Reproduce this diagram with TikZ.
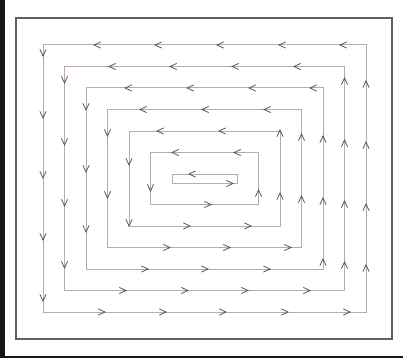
\documentclass[tikz,border=0pt]{standalone}
\definecolor{linecol}{RGB}{192,168,168}
\definecolor{arrcol}{RGB}{88,88,88}
\definecolor{framecol}{RGB}{95,95,95}
\definecolor{darkbg}{RGB}{22,22,22}
\begin{document}
\begin{tikzpicture}[x=1pt,y=-1pt,
  sp/.style={draw=linecol,line width=1pt},
  ch/.style={draw=arrcol,line width=0.8pt,line cap=round,line join=miter},
  pics/chl/.style={code={\draw[ch] (3.5,-3) -- (-3,0) -- (3.5,3);}},
  pics/chr/.style={code={\draw[ch] (-3.5,-3) -- (3,0) -- (-3.5,3);}},
  pics/chu/.style={code={\draw[ch] (-3,3.5) -- (0,-3) -- (3,3.5);}},
  pics/chd/.style={code={\draw[ch] (-3,-3.5) -- (0,3) -- (3,-3.5);}}]
\useasboundingbox (0,0) rectangle (403,358);
\fill[white] (0,0) rectangle (403,358);
\fill[darkbg] (0,0) rectangle (5,358);
\fill[darkbg] (0,356) rectangle (403,358);
\draw[framecol,line width=1.2pt] (16,18) rectangle (392,339);
\foreach \k/\tp/\lf/\bt/\rt in {
 0/{97,158,220,282,343}/{53,115,175,237,298}/{102,163,223,285,347}/{84,145,207,268},
 1/{112,173,235,297}/{80,142,203,265}/{123,185,245,307}/{81,143,204,265},
 2/{128,190,252,313}/{107,169,229}/{145,205,267}/{139,201,262},
 3/{143,205,267}/{133,195}/{167,227,288}/{137,199},
 4/{160,222}/{162,223}/{187,248}/{133,196},
 5/{175,237}/{188}/{208}/{193}}
{
  \pgfmathsetmacro\L{43+21.5*\k}
  \pgfmathsetmacro\R{366-21.5*\k}
  \pgfmathsetmacro\T{45+21.5*\k}
  \pgfmathsetmacro\B{312-21.5*\k}
  \draw[sp] (\L,\T) rectangle (\R,\B);
  \foreach \x in \tp {\pic at (\x,\T) {chl};}
  \foreach \y in \lf {\pic at (\L,\y) {chd};}
  \foreach \x in \bt {\pic at (\x,\B) {chr};}
  \foreach \y in \rt {\pic at (\R,\y) {chu};}
}
% innermost loop
\draw[sp] (172,174) rectangle (237,183.5);
\pic at (192,174) {chl};
\pic at (230,183.5) {chr};
\end{tikzpicture}
\end{document}
